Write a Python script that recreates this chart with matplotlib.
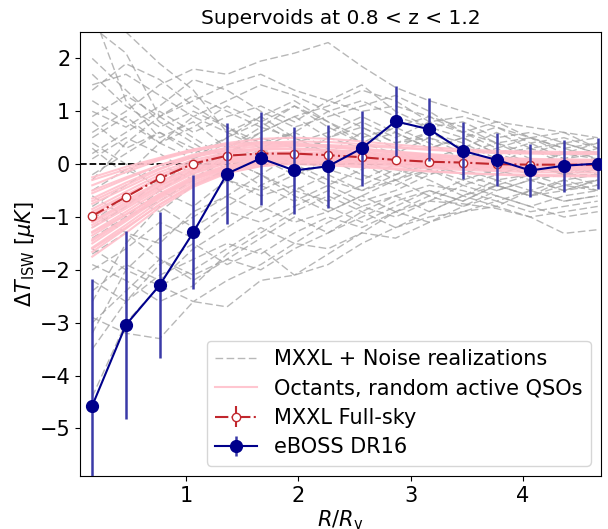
import matplotlib
matplotlib.use("Agg")
import matplotlib.pyplot as plt

# radial bins R/Rv
r_bins = [0.165, 0.465, 0.765, 1.065, 1.365, 1.665, 1.965, 2.265,
          2.565, 2.865, 3.165, 3.465, 3.765, 4.065, 4.365, 4.665]

# eBOSS DR16 measurement and errors (muK)
eboss = [-4.57, -3.04, -2.29, -1.29, -0.18, 0.11, -0.12, -0.04,
         0.30, 0.81, 0.66, 0.25, 0.08, -0.12, -0.03, 0.01]
eboss_err = [2.4, 1.78, 1.38, 1.08, 0.95, 0.88, 0.82, 0.79,
             0.71, 0.66, 0.60, 0.54, 0.50, 0.50, 0.49, 0.48]

# MXXL full-sky stack
mxxl = [-0.98, -0.62, -0.27, 0.01, 0.16, 0.20, 0.20, 0.17,
        0.13, 0.08, 0.045, 0.03, 0.0, -0.01, -0.01, -0.01]
mxxl_err = [0.03, 0.03, 0.02, 0.02, 0.02, 0.02, 0.02, 0.02,
            0.02, 0.02, 0.02, 0.02, 0.02, 0.02, 0.02, 0.02]

# octants with random active QSOs
octants = [
    [-0.25, -0.05, 0.12, 0.28, 0.38, 0.42, 0.40, 0.35, 0.29, 0.22, 0.17, 0.13, 0.10, 0.08, 0.07, 0.06],
    [-0.40, -0.15, 0.08, 0.25, 0.36, 0.40, 0.38, 0.33, 0.27, 0.21, 0.15, 0.11, 0.08, 0.06, 0.05, 0.04],
    [-0.55, -0.28, -0.02, 0.18, 0.31, 0.37, 0.37, 0.34, 0.29, 0.24, 0.19, 0.15, 0.12, 0.10, 0.09, 0.08],
    [-0.65, -0.35, -0.08, 0.13, 0.27, 0.34, 0.35, 0.32, 0.28, 0.22, 0.17, 0.13, 0.10, 0.08, 0.07, 0.07],
    [-0.75, -0.45, -0.15, 0.08, 0.22, 0.29, 0.30, 0.27, 0.22, 0.16, 0.11, 0.07, 0.04, 0.02, 0.01, 0.01],
    [-0.85, -0.52, -0.20, 0.04, 0.19, 0.27, 0.29, 0.27, 0.23, 0.18, 0.14, 0.11, 0.09, 0.08, 0.08, 0.08],
    [-0.95, -0.60, -0.26, 0.00, 0.15, 0.22, 0.23, 0.20, 0.16, 0.11, 0.07, 0.04, 0.02, 0.01, 0.00, 0.00],
    [-1.00, -0.68, -0.33, -0.05, 0.12, 0.20, 0.22, 0.21, 0.18, 0.14, 0.10, 0.07, 0.05, 0.04, 0.03, 0.03],
    [-1.08, -0.72, -0.36, -0.08, 0.09, 0.17, 0.19, 0.17, 0.13, 0.08, 0.04, 0.01, -0.01, -0.02, -0.03, -0.03],
    [-1.15, -0.80, -0.42, -0.12, 0.07, 0.16, 0.19, 0.18, 0.15, 0.11, 0.07, 0.04, 0.02, 0.01, 0.00, -0.01],
    [-1.20, -0.84, -0.46, -0.16, 0.03, 0.12, 0.15, 0.13, 0.09, 0.04, 0.00, -0.03, -0.05, -0.06, -0.07, -0.07],
    [-1.28, -0.90, -0.50, -0.18, 0.02, 0.12, 0.16, 0.16, 0.14, 0.11, 0.08, 0.06, 0.04, 0.03, 0.02, 0.02],
    [-1.35, -0.96, -0.56, -0.23, -0.02, 0.09, 0.13, 0.12, 0.09, 0.05, 0.01, -0.02, -0.04, -0.05, -0.06, -0.06],
    [-1.42, -1.02, -0.60, -0.26, -0.04, 0.07, 0.11, 0.10, 0.07, 0.03, -0.01, -0.04, -0.06, -0.08, -0.09, -0.09],
    [-1.50, -1.08, -0.65, -0.30, -0.07, 0.05, 0.10, 0.10, 0.08, 0.05, 0.02, -0.01, -0.03, -0.04, -0.05, -0.05],
    [-1.58, -1.15, -0.70, -0.34, -0.10, 0.02, 0.07, 0.06, 0.03, -0.01, -0.05, -0.08, -0.10, -0.11, -0.12, -0.12],
    [-1.66, -1.22, -0.76, -0.38, -0.13, 0.00, 0.05, 0.05, 0.03, 0.00, -0.03, -0.05, -0.07, -0.08, -0.08, -0.08],
    [-1.75, -1.30, -0.82, -0.43, -0.17, -0.04, 0.02, 0.02, 0.00, -0.04, -0.08, -0.11, -0.13, -0.15, -0.16, -0.16],
    [-0.50, -0.25, -0.02, 0.15, 0.25, 0.29, 0.28, 0.24, 0.18, 0.12, 0.06, 0.02, -0.01, -0.03, -0.04, -0.04],
    [-0.90, -0.58, -0.25, 0.02, 0.20, 0.30, 0.35, 0.36, 0.34, 0.31, 0.27, 0.24, 0.22, 0.21, 0.20, 0.20],
    [-1.10, -0.76, -0.40, -0.12, 0.06, 0.14, 0.16, 0.14, 0.10, 0.06, 0.03, 0.02, 0.01, 0.01, 0.02, 0.02],
    [-1.30, -0.95, -0.58, -0.28, -0.08, 0.02, 0.04, 0.02, -0.03, -0.08, -0.13, -0.17, -0.20, -0.22, -0.23, -0.23],
    [-0.70, -0.40, -0.10, 0.15, 0.31, 0.40, 0.43, 0.42, 0.38, 0.33, 0.28, 0.24, 0.21, 0.20, 0.19, 0.19],
    [-1.45, -1.05, -0.62, -0.27, -0.04, 0.08, 0.12, 0.11, 0.08, 0.04, 0.00, -0.03, -0.05, -0.06, -0.07, -0.07],
    [-0.30, -0.10, 0.10, 0.27, 0.40, 0.48, 0.50, 0.48, 0.43, 0.37, 0.32, 0.28, 0.25, 0.24, 0.23, 0.23],
    [-1.60, -1.20, -0.77, -0.40, -0.15, -0.03, 0.00, -0.02, -0.06, -0.10, -0.14, -0.17, -0.19, -0.20, -0.21, -0.21],
]

# MXXL + noise realizations
noise = [
    [2.9, 1.2, 0.5, 0.8, 0.3, 0.6, 0.9, 0.5, 0.7, 0.4, 0.6, 0.3, 0.2, 0.4, 0.1, 0.3],
    [2.6, 2.1, 0.9, 1.3, 1.0, 0.7, 1.1, 0.8, 0.4, 0.6, 0.3, 0.5, 0.2, 0.0, 0.2, 0.1],
    [2.5, 2.5, 1.9, 1.4, 0.6, 0.9, 0.5, 0.2, 0.6, 0.3, -0.1, 0.2, 0.4, 0.1, -0.2, 0.0],
    [0.6, 1.0, 1.5, 1.8, 1.7, 1.95, 2.1, 2.3, 1.85, 1.45, 1.2, 1.0, 0.8, 0.7, 0.6, 0.5],
    [1.5, 1.7, 1.3, 0.9, 1.2, 1.5, 1.3, 1.0, 1.2, 0.9, 0.7, 0.8, 0.5, 0.6, 0.4, 0.5],
    [1.0, 0.7, 1.1, 1.6, 1.4, 1.0, 0.7, 0.9, 1.1, 1.3, 1.0, 0.6, 0.8, 0.5, 0.3, 0.4],
    [0.8, 0.3, 0.6, 0.2, 0.5, 0.9, 1.2, 0.8, 0.5, 0.7, 0.9, 0.7, 0.4, 0.2, 0.4, 0.2],
    [0.5, 0.9, 0.4, 0.7, 1.1, 0.8, 0.4, 0.6, 0.9, 0.6, 0.3, 0.5, 0.7, 0.5, 0.6, 0.3],
    [0.3, -0.2, 0.4, 0.9, 0.6, 0.3, 0.6, 1.0, 0.7, 0.4, 0.5, 0.2, 0.0, 0.3, 0.1, 0.2],
    [0.1, 0.5, 0.2, -0.2, 0.3, 0.7, 0.5, 0.2, 0.0, 0.3, 0.6, 0.4, 0.1, -0.1, 0.0, -0.1],
    [-0.2, 0.2, 0.6, 0.3, -0.1, 0.2, 0.1, 0.5, 0.3, 0.0, -0.2, 0.1, 0.3, 0.0, -0.2, -0.1],
    [-0.5, -0.1, -0.4, 0.1, 0.4, 0.1, -0.2, 0.0, 0.4, 0.7, 0.4, 0.1, -0.1, 0.1, -0.1, 0.0],
    [-0.8, -0.4, 0.0, -0.3, 0.2, 0.5, 0.3, -0.1, -0.3, 0.0, 0.2, -0.1, -0.3, -0.2, -0.4, -0.3],
    [-1.1, -0.6, -0.9, -0.4, -0.1, 0.3, 0.0, 0.3, 0.1, -0.2, 0.1, 0.3, 0.0, -0.2, 0.1, -0.1],
    [-1.4, -1.0, -0.5, -0.8, -0.3, -0.5, -0.2, 0.1, -0.2, -0.4, -0.1, -0.3, -0.5, -0.3, -0.2, -0.4],
    [-1.7, -1.3, -1.5, -0.9, -0.6, -0.2, -0.5, -0.7, -0.4, -0.1, -0.3, -0.6, -0.4, -0.6, -0.5, -0.3],
    [-2.0, -1.6, -1.1, -1.4, -0.9, -1.1, -0.8, -0.5, -0.8, -0.6, -0.4, -0.5, -0.7, -0.5, -0.7, -0.6],
    [-2.4, -1.9, -2.2, -1.6, -1.2, -0.8, -1.1, -0.9, -0.6, -0.9, -0.7, -0.4, -0.6, -0.8, -0.6, -0.5],
    [-2.9, -3.2, -3.3, -2.6, -2.7, -2.2, -2.1, -1.9, -1.5, -1.2, -1.0, -0.9, -0.8, -1.0, -0.9, -0.8],
    [-3.5, -2.6, -2.1, -1.8, -1.5, -1.7, -1.3, -1.0, -1.2, -0.9, -1.1, -0.8, -0.6, -0.8, -1.0, -0.9],
    [-4.4, -3.0, -2.3, -2.0, -1.6, -1.2, -1.5, -1.1, -0.8, -1.0, -0.7, -0.75, -0.84, -1.0, -1.31, -1.24],
    [-3.0, -2.4, -1.8, -2.2, -1.8, -1.4, -1.0, -1.3, -1.0, -0.7, -0.5, -0.7, -0.4, -0.6, -0.4, -0.5],
    [-2.2, -2.6, -1.9, -1.5, -1.9, -1.6, -2.1, -1.7, -1.3, -0.9, -0.6, -0.8, -0.5, -0.3, -0.5, -0.4],
    [-1.9, -2.2, -2.6, -2.3, -1.7, -1.3, -0.9, -0.6, -0.9, -1.2, -0.9, -0.6, -0.8, -0.5, -0.7, -0.6],
    [1.2, 0.8, 0.4, 0.1, -0.3, -0.6, -0.4, -0.8, -1.1, -0.8, -0.5, -0.7, -0.4, -0.6, -0.3, -0.5],
    [0.9, 1.3, 0.9, 0.5, 0.1, -0.2, -0.6, -0.9, -0.6, -0.3, -0.6, -0.3, -0.1, -0.3, -0.5, -0.3],
    [2.0, 1.4, 0.8, 0.4, 0.0, -0.4, -0.7, -0.4, -0.1, 0.2, -0.1, 0.1, -0.1, 0.1, -0.1, 0.0],
    [1.7, 1.1, 0.7, 1.0, 0.7, 0.3, 0.0, -0.3, -0.5, -0.2, 0.0, -0.2, -0.4, -0.2, 0.0, -0.2],
    [-0.3, 0.4, 0.9, 1.2, 1.5, 1.7, 1.4, 1.2, 1.0, 1.1, 0.9, 0.6, 0.4, 0.5, 0.3, 0.1],
    [0.4, 0.0, -0.5, -0.1, 0.2, 0.6, 0.9, 1.1, 1.4, 1.2, 0.8, 0.9, 0.7, 0.4, 0.5, 0.3],
    [-0.6, -1.0, -0.7, -0.3, 0.1, -0.2, 0.2, 0.5, 0.8, 0.5, 0.8, 0.6, 0.3, 0.5, 0.2, 0.4],
    [-1.2, -0.8, -0.3, 0.1, 0.5, 0.8, 1.1, 0.7, 0.4, 0.2, 0.5, 0.3, 0.6, 0.3, 0.4, 0.2],
    [0.2, 0.6, 1.0, 0.6, 0.9, 1.1, 0.8, 1.2, 1.5, 1.0, 0.7, 0.5, 0.2, 0.3, 0.0, 0.1],
    [-3.2, -2.0, -1.4, -1.0, -0.6, -0.9, -0.5, -0.2, -0.5, -0.3, 0.0, -0.2, 0.1, -0.1, 0.1, -0.1],
    [-2.6, -1.5, -0.8, -1.2, -0.8, -0.4, -0.1, -0.4, -0.7, -0.5, -0.2, 0.0, -0.2, 0.0, -0.2, -0.2],
    [1.4, 1.9, 1.6, 1.1, 0.7, 0.4, 0.6, 0.3, 0.0, -0.3, -0.1, -0.4, -0.2, 0.0, -0.2, 0.1],
    [-0.9, -1.3, -1.8, -2.1, -1.8, -2.0, -1.6, -1.3, -0.9, -0.6, -0.9, -0.6, -0.3, -0.5, -0.3, -0.2],
    [-1.6, -2.0, -2.3, -2.6, -2.2, -1.9, -1.5, -1.6, -1.3, -1.4, -1.1, -0.9, -0.7, -0.9, -0.8, -0.7],
]

fig = plt.figure(figsize=(6.08, 5.29), dpi=100)
ax = fig.add_axes([0.1316, 0.1002, 0.857, 0.8393])

for i, line in enumerate(noise):
    ax.plot(r_bins, line, color='#a0a0a0', ls='--', dashes=(5.5, 2.5), lw=1.0,
            alpha=0.75, label='MXXL + Noise realizations' if i == 0 else None,
            zorder=1)

ax.axhline(0, color='black', ls='--', lw=1.3, zorder=2)

for i, line in enumerate(octants):
    ax.plot(r_bins, line, color='pink', lw=1.5, alpha=0.9,
            label='Octants, random active QSOs' if i == 0 else None, zorder=3)

ax.errorbar(r_bins, mxxl, yerr=mxxl_err, color='#c1272d', ls='-.', lw=1.5,
            marker='o', markersize=6, markerfacecolor='white',
            markeredgecolor='#c1272d', label='MXXL Full-sky', zorder=4)

ax.errorbar(r_bins, eboss, yerr=eboss_err, color='darkblue', lw=1.5,
            marker='o', markersize=8.5, ecolor='#3a3aa8', elinewidth=1.8,
            label='eBOSS DR16', zorder=5)

ax.set_xlim(0.056, 4.695)
ax.set_ylim(-5.9, 2.5)
ax.set_xticks([1, 2, 3, 4])
ax.set_yticks([-5, -4, -3, -2, -1, 0, 1, 2])
ax.tick_params(labelsize=15)

ax.set_title('Supervoids at 0.8 < z < 1.2', fontsize=14.5)
ax.set_xlabel(r'$R/R_{\rm v}$', fontsize=15, labelpad=2)
ax.set_ylabel(r'$\Delta T_{\rm ISW}$ [$\mu K$]', fontsize=15, labelpad=2)

ax.legend(loc='lower right', fontsize=15, handlelength=2.0, labelspacing=0.45)

fig.savefig('out.png', dpi=100)
